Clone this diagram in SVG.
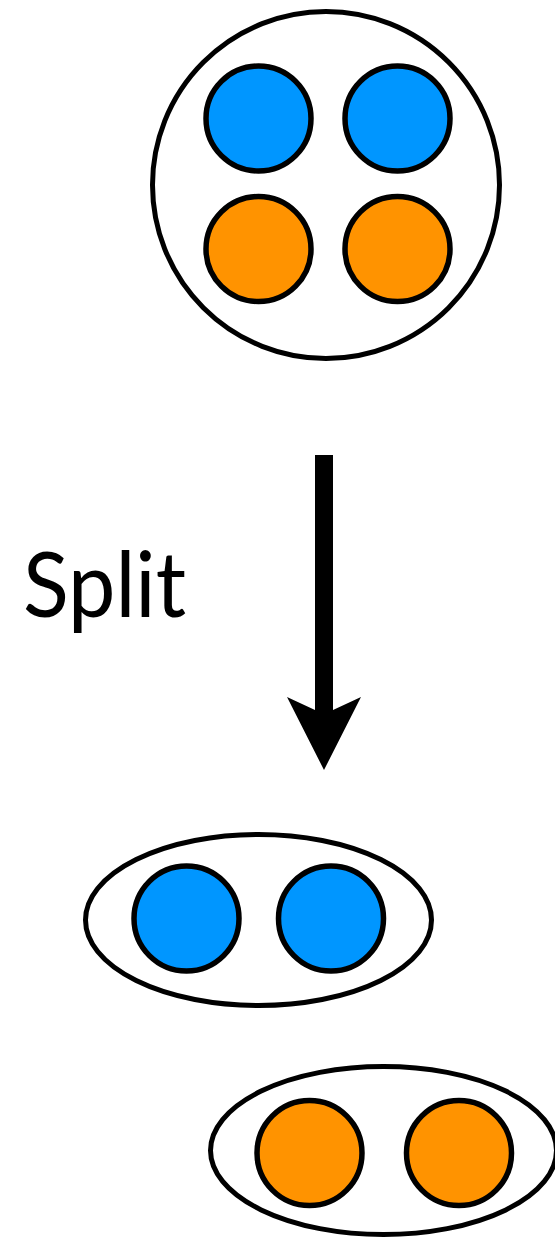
<svg xmlns="http://www.w3.org/2000/svg" width="555" height="1241" viewBox="0 0 555 1241">
<style>
.group{fill:#ffffff;stroke:#000000;stroke-width:5}
.ball{stroke:#000000;stroke-width:5.5}
.blue{fill:#0096ff}
.orange{fill:#ff9300}
.label{font-family:"Lato","Liberation Sans",sans-serif;font-size:92px;fill:#000000}
</style>
<rect width="555" height="1241" fill="#ffffff"/>
<g id="node-mixed">
<circle class="group" cx="326" cy="185" r="173.5"/>
<circle class="ball blue" cx="258.5" cy="118.5" r="52.5"/>
<circle class="ball blue" cx="397.5" cy="118.5" r="52.5"/>
<circle class="ball orange" cx="258.5" cy="249" r="52.5"/>
<circle class="ball orange" cx="397.5" cy="249" r="52.5"/>
</g>
<g id="connectors">
<rect x="315" y="455" width="18" height="260" fill="#000000"/>
<path d="M287,697 L315,710 L333,710 L361,697 L324,770 Z" fill="#000000"/>
</g>
<g id="label-split">
<text class="label" x="23" y="617" textLength="163" lengthAdjust="spacingAndGlyphs">Split</text>
</g>
<g id="node-blue">
<ellipse class="group" cx="258.5" cy="920" rx="173" ry="85.5"/>
<circle class="ball blue" cx="186.5" cy="918.5" r="52.5"/>
<circle class="ball blue" cx="331" cy="918.5" r="52.5"/>
</g>
<g id="node-orange">
<ellipse class="group" cx="383.5" cy="1150.5" rx="173" ry="84"/>
<circle class="ball orange" cx="309.5" cy="1153" r="52.5"/>
<circle class="ball orange" cx="459" cy="1153" r="52.5"/>
</g>
</svg>
